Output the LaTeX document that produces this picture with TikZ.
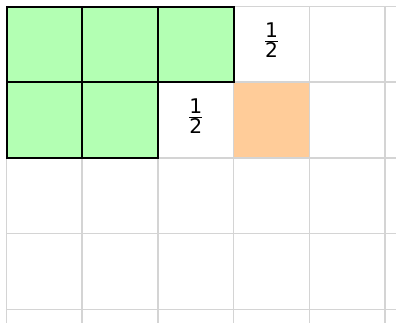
\documentclass[tikz,border=0pt]{standalone}
\usepackage{fontspec}
\setmainfont{DejaVu Sans}
\definecolor{cellgreen}{HTML}{B3FFB3}
\definecolor{cellorange}{HTML}{FFCC99}
\definecolor{gridgray}{HTML}{D4D4D4}
\begin{document}
\begin{tikzpicture}[line width=0.75pt]

  \def\cs{1}  % cell size
  \tikzset{
    filled/.style={fill=cellgreen, draw=black},
    target/.style={fill=cellorange, draw=none},
    half/.style={font=\fontsize{7.6pt}{9pt}\selectfont}
  }

  \useasboundingbox (-0.086,-0.18) rectangle (5.145,4.086);

  % ----------------------------------------------------------------
  % background grid
  % ----------------------------------------------------------------
  \draw[gridgray, line width=0.6pt, step=\cs] (0,-0.18) grid (5.145,4);

  % ----------------------------------------------------------------
  % covered cells (row/column from the top left)
  % ----------------------------------------------------------------
  \foreach \r/\c in {1/0, 1/1, 1/2, 2/0, 2/1} {
    \draw[filled] ({\c*\cs},{4-\r*\cs}) rectangle ++(\cs,\cs);
  }

  % the open cell
  \fill[target] (3*\cs+0.01,2*\cs+0.01) rectangle (4*\cs-0.01,3*\cs-0.01);

  % halves
  \node[half] (h1) at ({3.5*\cs},{3.55*\cs}) {$\frac{\mbox{1}}{\mbox{2}}$};
  \node[half] (h2) at ({2.5*\cs},{2.55*\cs}) {$\frac{\mbox{1}}{\mbox{2}}$};

\end{tikzpicture}
\end{document}
